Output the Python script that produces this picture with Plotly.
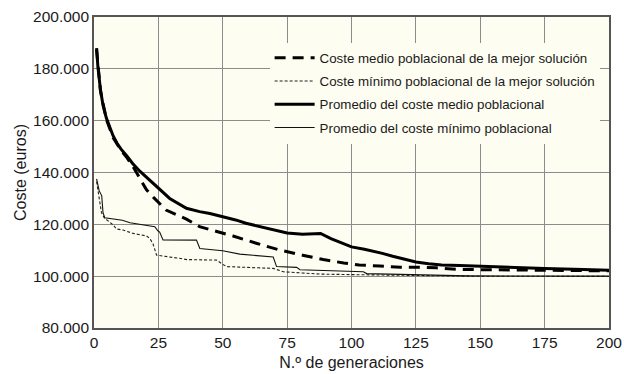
import plotly.graph_objects as go

# Generaciones y costes (euros) de cada serie
gen_medio_mejor = [1, 2.5, 4.8, 7.4, 10.5, 12.6, 15, 17.8, 20.4, 23, 28, 35.9, 41, 46, 54, 63,
                   72, 81, 87, 89, 97, 103, 111, 119, 127, 133, 141, 150, 175, 200]
coste_medio_mejor = [187500, 171500, 160500, 153500, 148500, 146000, 142500, 137500, 133300,
                     130500, 125500, 122000, 119100, 117700, 115500, 112700, 110100, 108100,
                     106900, 106400, 105100, 104300, 103900, 103400, 103400, 103200, 102600,
                     102500, 102300, 102050]

gen_min_mejor = [1, 2.2, 2.9, 4, 7.4, 8.7, 11.3, 15.2, 20.4, 21.7, 22.9, 24.3, 28, 33, 36, 47.6,
                 50.1, 51.5, 56.6, 69.6, 73.5, 87.7, 100, 125, 145, 200]
coste_min_mejor = [136500, 129000, 124500, 122500, 119800, 118200, 117800, 116500, 115500,
                   114500, 112500, 108100, 107700, 106900, 106400, 106200, 104500, 103700,
                   103500, 103000, 101700, 100800, 100600, 100400, 100000, 99900]

gen_prom_medio = [1, 1.5, 2.5, 3.5, 4.8, 6, 7.4, 9, 10.5, 12.6, 15, 17.8, 20, 24.3, 29.4, 35.9,
                  41, 45, 50, 55, 59, 63, 67, 71, 75, 81, 84, 88, 92, 96, 100, 105, 108.5,
                  112, 116, 120, 125, 130, 135, 142, 150, 160, 175, 190, 200]
coste_prom_medio = [188000, 181000, 172000, 166000, 161000, 157500, 154200, 151200, 149000,
                    146600, 143500, 140500, 138500, 134500, 130000, 126200, 124900, 124200,
                    123000, 121700, 120400, 119500, 118400, 117500, 116700, 116200, 116300,
                    116500, 114500, 112800, 111300, 110400, 109700, 108800, 107700, 106700,
                    105500, 104800, 104300, 104100, 103900, 103500, 103000, 102600, 102300]

gen_prom_min = [1, 2, 3, 3.5, 4.2, 7.4, 11, 14, 18, 20.4, 23.6, 24.9, 25.5, 26.8, 39.8, 41.1,
                50, 56.6, 60.5, 69.6, 70.9, 78.7, 80, 87, 104.6, 105.9, 126.6, 138, 145, 200]
coste_prom_min = [137500, 133000, 131000, 124500, 122500, 122000, 121600, 120600, 120000,
                  119700, 119100, 117400, 117000, 114000, 113900, 110700, 109800, 108500,
                  108100, 107400, 103700, 103400, 102500, 102300, 101700, 101000, 100600,
                  100300, 100100, 100000]

x_ticks = [0, 25, 50, 75, 100, 125, 150, 175, 200]
y_ticks = [80000, 100000, 120000, 140000, 160000, 180000, 200000]

FONT = "Liberation Sans, Arial, Helvetica, sans-serif"
FONDO = "#fdfdf1"

fig = go.Figure()
fig.add_trace(go.Scatter(x=gen_medio_mejor, y=coste_medio_mejor, mode="lines",
                         name="Coste medio poblacional de la mejor solución",
                         legendgroup="a",
                         line=dict(color="black", width=3, dash="11px,7px")))
fig.add_trace(go.Scatter(x=gen_min_mejor, y=coste_min_mejor, mode="lines",
                         name="Coste mínimo poblacional de la mejor solución",
                         legendgroup="b",
                         line=dict(color="#222", width=1.1, dash="3px,2px")))
fig.add_trace(go.Scatter(x=gen_prom_medio, y=coste_prom_medio, mode="lines",
                         name="Promedio del coste medio poblacional",
                         legendgroup="c",
                         line=dict(color="black", width=3)))
fig.add_trace(go.Scatter(x=gen_prom_min, y=coste_prom_min, mode="lines",
                         name="Promedio del coste mínimo poblacional",
                         legendgroup="d",
                         line=dict(color="#111", width=1.1)))

fig.update_layout(
    width=624, height=374,
    margin=dict(l=94, r=15, t=17, b=46, autoexpand=False),
    paper_bgcolor="white",
    plot_bgcolor=FONDO,
    separators=",.",
    font=dict(family=FONT, color="#1a1a1a"),
    showlegend=True,
    legend=dict(x=0.341, y=0.918, xanchor="left", yanchor="top",
                bgcolor=FONDO, borderwidth=0,
                font=dict(size=13.3, family=FONT, color="#1a1a1a"),
                tracegroupgap=3, itemwidth=40),
)
fig.update_xaxes(range=[0, 200], tickvals=x_ticks, showgrid=True, automargin=False,
                 gridcolor="#8c8c8c", gridwidth=1.2,
                 showline=True, linecolor="#555", linewidth=1.6, mirror=True,
                 zeroline=False, ticks="",
                 tickfont=dict(size=15.5, family=FONT, color="#1a1a1a"),
                 title=dict(text="N.º de generaciones", standoff=6,
                            font=dict(size=16, family=FONT, color="#1a1a1a")))
fig.update_yaxes(range=[80000, 200000], tickvals=y_ticks, tickformat=",d",
                 showgrid=True, gridcolor="#8c8c8c", gridwidth=1.2, automargin=False,
                 showline=True, linecolor="#555", linewidth=1.6, mirror=True,
                 zeroline=False, ticks="",
                 tickfont=dict(size=15.5, family=FONT, color="#1a1a1a"),
                 title=dict(text="Coste (euros)", standoff=2,
                            font=dict(size=16, family=FONT, color="#1a1a1a")))

fig.write_html("out.html")
